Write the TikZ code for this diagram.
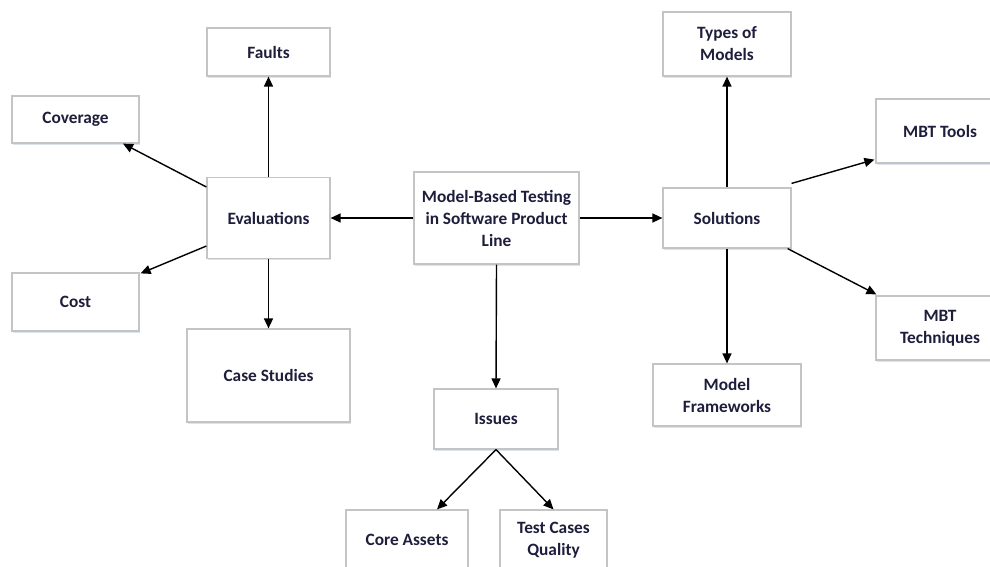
\documentclass[tikz,border=0pt]{standalone}
\usepackage{fontspec}
\setmainfont{Carlito}
\usetikzlibrary{arrows.meta,shadows}
\definecolor{boxline}{HTML}{C4C4C4}
\definecolor{boxtext}{HTML}{1E1E3C}
\definecolor{boxshade}{HTML}{8FA3C8}

\begin{document}
\begin{tikzpicture}[x=1pt,y=-1pt,
  box/.style={draw=boxline, line width=1.2pt, fill=white, align=center,
    inner sep=2pt, text=boxtext,
    font=\fontsize{17.3}{22}\selectfont\bfseries,
    drop shadow={shadow xshift=0.5pt, shadow yshift=-1.6pt,
      fill=boxshade, opacity=0.3}},
  link/.style={-{Triangle[length=10pt,width=9pt]}, line width=1.4pt, black}]

\clip (0,0) rectangle (990,566);
\fill[white] (0,0) rectangle (990,566);

% centre
\node[box, minimum width=165, minimum height=92] (main) at (496.5,218)
  {Model-Based Testing\\in Software Product\\Line};

% evaluations branch
\node[box, minimum width=123, minimum height=81] (eval) at (268.5,218) {Evaluations};
\node[box, minimum width=123, minimum height=48] (faults) at (268.5,52) {Faults};
\node[box, minimum width=127, minimum height=47] (coverage) at (75.5,119.5) {Coverage};
\node[box, minimum width=127, minimum height=58] (cost) at (75.5,302) {Cost};
\node[box, minimum width=163, minimum height=93] (case) at (268.5,375.5) {Case Studies};

% issues branch
\node[box, minimum width=124, minimum height=60] (issues) at (496,419) {Issues};
\node[box, minimum width=122, minimum height=60] (core) at (407,540) {Core Assets};
\node[box, minimum width=107, minimum height=60] (tcq) at (553.5,540) {Test Cases\\Quality};

% solutions branch
\node[box, minimum width=128, minimum height=60] (sol) at (727,218) {Solutions};
\node[box, minimum width=128, minimum height=64] (types) at (727,44) {Types of\\Models};
\node[box, minimum width=128, minimum height=64] (tools) at (940,131) {MBT Tools};
\node[box, minimum width=128, minimum height=64] (tech) at (940,328) {MBT\\Techniques};
\node[box, minimum width=148, minimum height=62] (frame) at (727,395) {Model\\Frameworks};

% connectors from the centre
\draw[link] (main.west) -- (eval.east);
\draw[link] (main.east) -- (sol.west);
\draw[link] (main.south) -- (issues.north);

% evaluations
\draw[link] (eval.north) -- (faults.south);
\draw[link] (eval.south) -- (case.north);
\draw[link] ([yshift=31pt]eval.west) -- ([xshift=47.5pt]coverage.south);
\draw[link] ([yshift=-28pt]eval.west) -- ([xshift=1pt,yshift=-1pt]cost.north east);

% issues
\draw[link] (issues.south) -- ([xshift=30pt]core.north);
\draw[link] (issues.south) -- (tcq.north);

% solutions
\draw[link] (sol.north) -- (types.south);
\draw[link] (sol.south) -- (frame.north);
\draw[link] ([yshift=4pt]sol.north east) -- ([xshift=-1pt,yshift=4pt]tools.south west);
\draw[link] ([xshift=-4pt]sol.south east) -- ([xshift=1pt,yshift=1pt]tech.north west);
\end{tikzpicture}
\end{document}
